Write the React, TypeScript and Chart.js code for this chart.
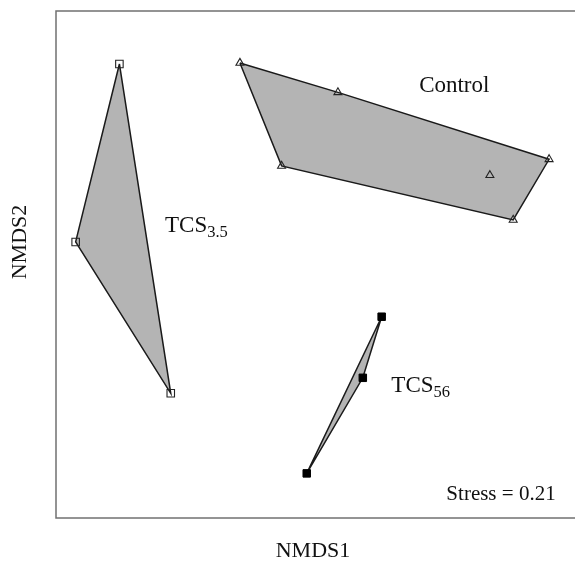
import React, { useEffect, useRef } from "react";
import { Chart, registerables } from "chart.js";

Chart.register(...registerables);

// NMDS scores
const tcs35X = [-0.758, -0.925, -0.562];
const tcs35Y = [0.791, 0.089, -0.508];

const controlX = [-0.298, 0.076, -0.139, 0.882, 0.656, 0.745];
const controlY = [0.795, 0.679, 0.389, 0.415, 0.352, 0.176];

const tcs56X = [0.243, 0.171, -0.043];
const tcs56Y = [-0.206, -0.447, -0.824];

// convex hull vertex order (indices into the arrays above)
const tcs35Hull = [0, 1, 2];
const controlHull = [0, 1, 3, 5, 2];
const tcs56Hull = [0, 1, 2];

const xTitle = "NMDS1";
const yTitle = "NMDS2";
const stressText = "Stress = 0.21";

const FONT = '"Liberation Serif", "Times New Roman", serif';

const pts = (xs: number[], ys: number[]) => xs.map((x, i) => ({ x, y: ys[i] }));
const hull = (xs: number[], ys: number[], idx: number[]) => {
  const p = idx.map((i) => ({ x: xs[i], y: ys[i] }));
  p.push({ ...p[0] });
  return p;
};

// label anchors in data units
const labelDefs = [
  { main: "Control", sub: "", x: 0.386, y: 0.68 },
  { main: "TCS", sub: "3.5", x: -0.584, y: 0.128 },
  { main: "TCS", sub: "56", x: 0.28, y: -0.503 },
];

const annotPlugin = {
  id: "annot",
  afterDraw(chart: any) {
    const { ctx, chartArea, scales } = chart;
    const { left, top, right, bottom } = chartArea;
    ctx.save();
    // frame
    ctx.strokeStyle = "#707070";
    ctx.lineWidth = 1.5;
    ctx.strokeRect(left, top, right - left, bottom - top);

    ctx.fillStyle = "#111";
    ctx.textBaseline = "alphabetic";
    for (const l of labelDefs) {
      const px = scales.x.getPixelForValue(l.x);
      const py = scales.y.getPixelForValue(l.y);
      ctx.font = `23px ${FONT}`;
      ctx.textAlign = "left";
      ctx.fillText(l.main, px, py);
      if (l.sub) {
        const w = ctx.measureText(l.main).width;
        ctx.font = `16.5px ${FONT}`;
        ctx.fillText(l.sub, px + w, py + 5);
      }
    }
    // stress
    ctx.font = `21px ${FONT}`;
    ctx.textAlign = "right";
    ctx.fillText(stressText, scales.x.getPixelForValue(0.907), scales.y.getPixelForValue(-0.929));

    // axis titles
    ctx.font = `22px ${FONT}`;
    ctx.textAlign = "center";
    ctx.textBaseline = "middle";
    ctx.fillText(xTitle, left + 257, bottom + 33);
    ctx.translate(left - 36, top + 231);
    ctx.rotate(-Math.PI / 2);
    ctx.fillText(yTitle, 0, 0);
    ctx.restore();
  },
};

export default function App() {
  const ref = useRef<HTMLCanvasElement>(null);
  useEffect(() => {
    if (!ref.current) return;
    const hullStyle = {
      showLine: true,
      fill: "shape" as any,
      backgroundColor: "#b4b4b4",
      borderColor: "#1a1a1a",
      borderWidth: 1.5,
      pointRadius: 0,
      pointHoverRadius: 0,
      order: 2,
    };
    const chart = new Chart(ref.current, {
      type: "scatter",
      data: {
        datasets: [
          { label: "TCS3.5 hull", data: hull(tcs35X, tcs35Y, tcs35Hull), ...hullStyle },
          { label: "Control hull", data: hull(controlX, controlY, controlHull), ...hullStyle },
          { label: "TCS56 hull", data: hull(tcs56X, tcs56Y, tcs56Hull), ...hullStyle },
          {
            label: "TCS3.5",
            data: pts(tcs35X, tcs35Y),
            pointStyle: "rect",
            pointRadius: 5.3,
            backgroundColor: "rgba(255,255,255,0)",
            borderColor: "#222",
            borderWidth: 1.1,
            order: 0,
          },
          {
            label: "Control",
            data: pts(controlX, controlY),
            pointStyle: "triangle",
            pointRadius: 4.6,
            backgroundColor: "rgba(255,255,255,0)",
            borderColor: "#222",
            borderWidth: 1.1,
            order: 0,
          },
          {
            label: "TCS56",
            data: pts(tcs56X, tcs56Y),
            pointStyle: "rect",
            pointRadius: 5.3,
            backgroundColor: "#000",
            borderColor: "#000",
            borderWidth: 1,
            order: 0,
          },
        ],
      },
      options: {
        animation: false,
        responsive: false,
        layout: { padding: { left: 56, top: 11, right: 20, bottom: 45 } },
        scales: {
          x: { type: "linear", min: -1, max: 1, display: false },
          y: { type: "linear", min: -1, max: 1, display: false },
        },
        plugins: { legend: { display: false }, tooltip: { enabled: false } },
      },
      plugins: [annotPlugin],
    });
    return () => chart.destroy();
  }, []);
  return (
    <div
      style={{
        position: "fixed",
        left: 0,
        top: 0,
        width: 575,
        height: 563,
        overflow: "hidden",
        background: "#fff",
      }}
    >
      <canvas ref={ref} width={600} height={563} style={{ width: 600, height: 563, display: "block" }} />
    </div>
  );
}
